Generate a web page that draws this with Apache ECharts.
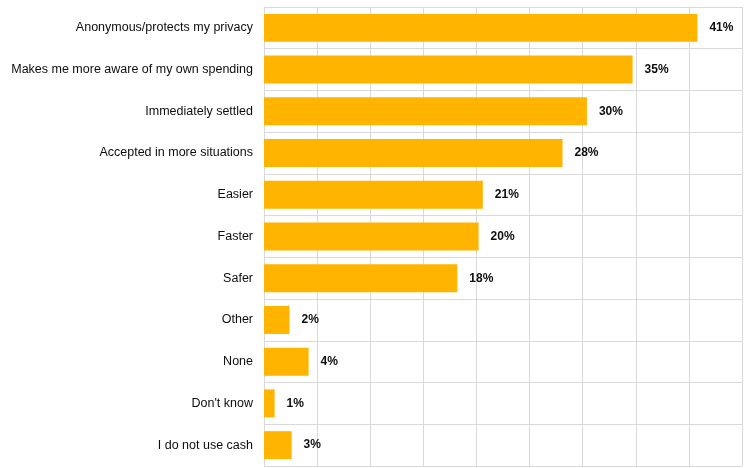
<!DOCTYPE html>
<html>
<head>
<meta charset="utf-8">
<script src="https://cdn.jsdelivr.net/npm/echarts@6/dist/echarts.min.js"></script>
<style>
html,body{margin:0;padding:0;background:#fff;}
#chart{width:744px;height:468px;}
</style>
</head>
<body>
<div id="chart"></div>
<script>
const categories = [
  'Anonymous/protects my privacy',
  'Makes me more aware of my own spending',
  'Immediately settled',
  'Accepted in more situations',
  'Easier',
  'Faster',
  'Safer',
  'Other',
  'None',
  "Don't know",
  'I do not use cash'
];
const values = [40.8, 34.7, 30.4, 28.1, 20.6, 20.2, 18.2, 2.4, 4.2, 1.0, 2.6];
const axisMin = 0;
const axisMax = 45;
const axisStep = 5;

const chart = echarts.init(document.getElementById('chart'), null, {renderer: 'canvas'});
chart.setOption({
  animation: false,
  backgroundColor: '#ffffff',
  grid: {left: 264, right: 2, top: 7, bottom: 2, containLabel: false},
  xAxis: {
    type: 'value',
    min: axisMin, max: axisMax, interval: axisStep,
    axisLabel: {show: false},
    axisTick: {show: false},
    axisLine: {show: false},
    splitLine: {show: true, lineStyle: {color: '#d9d9d9', width: 1}}
  },
  yAxis: {
    type: 'category',
    data: categories,
    inverse: true,
    axisTick: {show: false},
    axisLine: {show: true, lineStyle: {color: '#d9d9d9', width: 1}},
    splitLine: {show: true, lineStyle: {color: '#d9d9d9', width: 1}},
    axisLabel: {
      color: '#0d0d0d', fontFamily: 'Liberation Sans, Arial, sans-serif', fontSize: 12.5, margin: 11
    }
  },
  series: [{
    type: 'bar',
    data: values,
    barCategoryGap: '33%',
    itemStyle: {color: '#FFB400'},
    label: {
      show: true,
      position: 'right',
      distance: 12,
      formatter: p => Math.round(p.value) + '%',
      color: '#0d0d0d',
      fontWeight: 'bold',
      fontSize: 12,
      fontFamily: 'Liberation Sans, Arial, sans-serif'
    }
  }]
});
</script>
</body>
</html>
